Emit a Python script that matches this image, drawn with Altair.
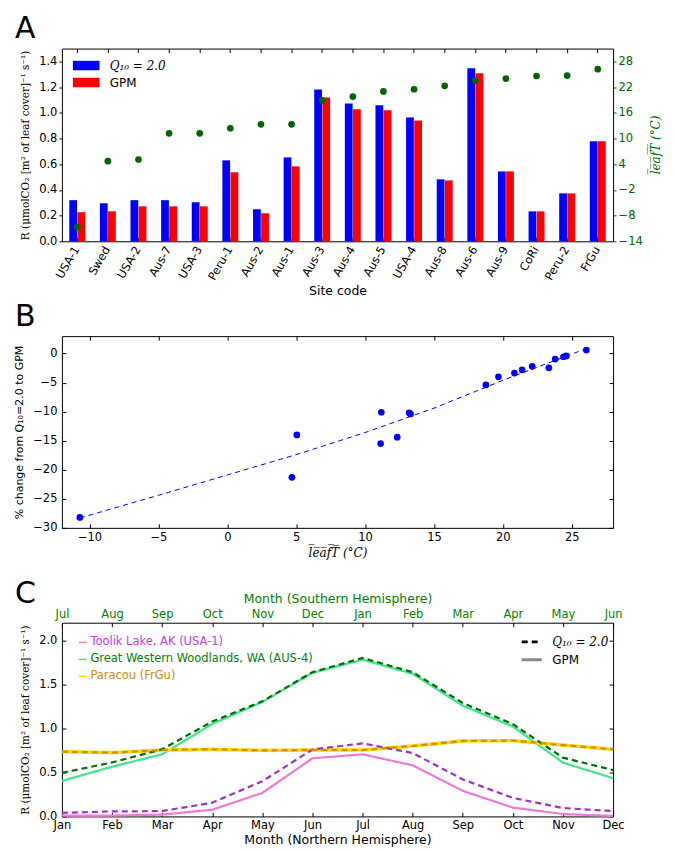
import altair as alt
import pandas as pd

FONT = "DejaVu Sans"
SERIF = "DejaVu Serif"
GREEN_AX = "#006400"
GREEN_TOP = "#008000"

# ---------------- data ----------------
sites = ["USA-1", "Swed", "USA-2", "Aus-7", "USA-3", "Peru-1", "Aus-2", "Aus-1", "Aus-3",
         "Aus-4", "Aus-5", "USA-4", "Aus-8", "Aus-6", "Aus-9", "CoRi", "Peru-2", "FrGu"]
r_q10 = [0.320, 0.296, 0.320, 0.320, 0.304, 0.630, 0.249, 0.653, 1.182,
         1.073, 1.058, 0.964, 0.482, 1.346, 0.544, 0.233, 0.373, 0.778]
r_gpm = [0.226, 0.233, 0.272, 0.272, 0.272, 0.537, 0.218, 0.583, 1.120,
         1.027, 1.019, 0.941, 0.474, 1.307, 0.544, 0.233, 0.373, 0.778]
leaf_t = [-10.7, 4.7, 5.1, 11.2, 11.2, 12.4, 13.3, 13.3, 18.9,
          19.8, 21.0, 21.5, 22.3, 23.5, 24.0, 24.6, 24.7, 26.2]

pct_t = [-10.7, 4.69, 5.05, 11.13, 11.18, 12.33, 13.2, 13.3, 18.77,
         19.68, 20.84, 21.39, 22.13, 23.34, 23.8, 24.4, 24.6, 26.06]
pct_change = [-28.2, -21.3, -14.0, -15.5, -10.1, -14.4, -10.2, -10.4, -5.4,
              -4.0, -3.35, -2.8, -2.2, -2.45, -0.95, -0.55, -0.4, 0.6]
fit_t = [-10.7, -5.0, 0.0, 5.0, 10.0, 15.0, 20.0, 26.1]
fit_change = [-28.3, -24.4, -20.9, -17.4, -13.6, -9.4, -4.6, 0.9]

months = list(range(1, 13))
north_months = ["Jan", "Feb", "Mar", "Apr", "May", "Jun", "Jul", "Aug", "Sep", "Oct", "Nov", "Dec"]
south_months = ["Jul", "Aug", "Sep", "Oct", "Nov", "Dec", "Jan", "Feb", "Mar", "Apr", "May", "Jun"]
c_sites = ["Toolik Lake, AK (USA-1)", "Great Western Woodlands, WA (AUS-4)", "Paracou (FrGu)"]
toolik_q10 = [0.040, 0.057, 0.060, 0.156, 0.400, 0.760, 0.830, 0.720, 0.420, 0.210, 0.095, 0.060]
toolik_gpm = [0.010, 0.010, 0.020, 0.076, 0.267, 0.660, 0.705, 0.580, 0.290, 0.100, 0.027, 0.005]
gww_q10 = [0.495, 0.613, 0.762, 1.078, 1.307, 1.638, 1.800, 1.638, 1.288, 1.048, 0.667, 0.526]
gww_gpm = [0.404, 0.564, 0.705, 1.050, 1.300, 1.630, 1.780, 1.620, 1.257, 1.020, 0.610, 0.434]
frgu_q10 = [0.735, 0.724, 0.754, 0.762, 0.750, 0.754, 0.754, 0.800, 0.857, 0.861, 0.810, 0.762]
frgu_gpm = [0.735, 0.724, 0.754, 0.762, 0.750, 0.754, 0.754, 0.800, 0.857, 0.861, 0.810, 0.762]

solid_colors = ["#F07AD2", "#40E68A", "#FFD700"]
dash_colors = ["#A030C8", "#006F00", "#C8901E"]
label_colors = ["#C040D8", "#0A800A", "#D08A14"]

Q = "Q\u2081\u2080 = 2.0"
R_TITLE = "R (\u03bcmolCO\u2082 [m\u00b2 of leaf cover]\u207b\u00b9 s\u207b\u00b9)"
T_TITLE = "l\u0305e\u0305a\u0305f\u0305T\u0305 (\u00b0C)"

LBL = 11.5
TTL = 12.5


def letter(t, dy=0):
    return alt.TitleParams(t, anchor="start", frame="group", fontSize=30, font=FONT,
                           fontWeight="normal", dx=-47, dy=dy)


font_expr = "datum.label == 'GPM' ? 'DejaVu Sans' : 'DejaVu Serif'"
style_expr = "datum.label == 'GPM' ? 'normal' : 'italic'"

# ---------------- panel A ----------------
dfA = pd.DataFrame({"site": sites + sites,
                    "model": [Q] * len(sites) + ["GPM"] * len(sites),
                    "R": r_q10 + r_gpm})
dfAT = pd.DataFrame({"site": sites, "T": leaf_t})
xsA = alt.Scale(domain=sites, paddingInner=0.48, paddingOuter=0.24)

bars = alt.Chart(dfA).mark_bar(strokeWidth=0).encode(
    x=alt.X("site:N", sort=sites, scale=xsA,
            axis=alt.Axis(title="Site code", labelAngle=-60, labelAlign="right",
                          labelBaseline="middle", tickSize=4, offset=-4, domain=False,
                          labelPadding=6, titlePadding=2)),
    xOffset=alt.XOffset("model:N", sort=[Q, "GPM"],
                        scale=alt.Scale(domain=[Q, "GPM"], paddingInner=0.05, paddingOuter=0)),
    y=alt.Y("R:Q", scale=alt.Scale(domain=[0, 1.5], nice=False),
            axis=alt.Axis(values=[0, 0.2, 0.4, 0.6, 0.8, 1.0, 1.2, 1.4], format=".1f",
                          title=R_TITLE, titleFont=SERIF, titleFontSize=10.5,
                          tickSize=3, labelPadding=2, domain=False,
                          minExtent=24, maxExtent=24, titlePadding=7)),
    color=alt.Color("model:N", scale=alt.Scale(domain=[Q, "GPM"], range=["#0000FF", "#FF0000"]),
                    legend=alt.Legend(title=None, orient="none", legendX=14.8, legendY=7.5,
                                      symbolType="M-1.4,-0.5H1.4V0.5H-1.4Z", symbolSize=361,
                                      symbolStrokeWidth=0, labelOffset=14, rowPadding=1,
                                      labelFontSize=12, labelLimit=0,
                                      labelFont=alt.ExprRef(font_expr),
                                      labelFontStyle=alt.ExprRef(style_expr))),
)

dots = alt.Chart(dfAT).mark_circle(size=45, color=GREEN_AX, opacity=1).encode(
    x=alt.X("site:N", sort=sites, scale=xsA,
            axis=alt.Axis(orient="top", labels=False, title=None, tickSize=4, offset=-4, domain=False)),
    y=alt.Y("T:Q", scale=alt.Scale(domain=[-14, 31], nice=False, zero=False),
            axis=alt.Axis(orient="right", values=[-14, -8, -2, 4, 10, 16, 22, 28],
                          title=T_TITLE, titleFont=SERIF, titleFontStyle="italic",
                          titleFontSize=12, titleColor=GREEN_AX, labelColor=GREEN_AX,
                          tickColor=GREEN_AX, tickSize=3, labelPadding=2, domain=False,
                          titleAngle=270, titleBaseline="middle", titleAlign="center",
                          titleX=42, titleY=96)),
)

panelA = alt.layer(bars, dots).resolve_scale(y="independent").resolve_axis(
    x="independent", y="independent").properties(width=552, height=193, title=letter("A"))

# ---------------- panel B ----------------
dfB = pd.DataFrame({"t": pct_t, "pct": pct_change})
dfFit = pd.DataFrame({"t": fit_t, "pct": fit_change})
xsB = alt.Scale(domain=[-12, 28], nice=False, zero=False)
ysB = alt.Scale(domain=[-30, 3], nice=False, zero=False)
xtB = [-10, -5, 0, 5, 10, 15, 20, 25]
ytB = [-30, -25, -20, -15, -10, -5, 0]

fitB = alt.Chart(dfFit).mark_line(color="#0000FF", strokeWidth=1, strokeDash=[5, 4]).encode(
    x=alt.X("t:Q", scale=xsB, axis=alt.Axis(orient="top", labels=False, title=None, values=xtB,
                                            tickSize=4, offset=-4, domain=False)),
    y=alt.Y("pct:Q", scale=ysB, axis=alt.Axis(orient="right", labels=False, title=None, values=ytB,
                                              tickSize=4, offset=-4, domain=False)),
)
ptsB = alt.Chart(dfB).mark_circle(size=45, color="#0000FF", opacity=1).encode(
    x=alt.X("t:Q", scale=xsB,
            axis=alt.Axis(orient="bottom", values=xtB, title=T_TITLE, titleFont=SERIF,
                          titleFontStyle="italic", titleFontSize=12, tickSize=4, offset=-4,
                          domain=False, labelPadding=4, titlePadding=4, labelFlush=False)),
    y=alt.Y("pct:Q", scale=ysB,
            axis=alt.Axis(orient="left", values=ytB, title="% change from " + Q.replace(" ", "") + " to GPM",
                          titleFontSize=11, tickSize=4, offset=-4, domain=False, labelPadding=5,
                          minExtent=31, maxExtent=31, titlePadding=10)),
)
panelB = alt.layer(fitB, ptsB).resolve_axis(x="independent", y="independent").properties(
    width=552, height=192, title=letter("B"))

# ---------------- panel C ----------------
rows_g, rows_q = [], []
for s, g, q in zip(c_sites, [toolik_gpm, gww_gpm, frgu_gpm], [toolik_q10, gww_q10, frgu_q10]):
    for m, gv, qv in zip(months, g, q):
        rows_g.append({"month": m, "site": s, "model": "GPM", "R": gv})
        rows_q.append({"month": m, "loc": s, "model": Q, "R": qv})
dfCg = pd.DataFrame(rows_g)
dfCq = pd.DataFrame(rows_q)

xsC = alt.Scale(domain=[1, 12], nice=False, zero=False)
ysC = alt.Scale(domain=[0, 2.2], nice=False)
ytC = [0, 0.5, 1.0, 1.5, 2.0]
north_expr = "[" + ",".join("'%s'" % m for m in north_months) + "][datum.value - 1]"
south_expr = "[" + ",".join("'%s'" % m for m in south_months) + "][datum.value - 1]"
dash_scale = alt.Scale(domain=[Q, "GPM"], range=[[6, 4], [1, 0]])
lab_color_expr = ("datum.label == '%s' ? '%s' : datum.label == '%s' ? '%s' : '%s'"
                  % (c_sites[0], label_colors[0], c_sites[1], label_colors[1], label_colors[2]))
sym_color_expr = ("datum.value == '%s' ? '%s' : datum.value == '%s' ? '%s' : '%s'"
                  % (c_sites[0], label_colors[0], c_sites[1], label_colors[1], label_colors[2]))

solid = alt.Chart(dfCg).mark_line().encode(
    x=alt.X("month:Q", scale=xsC,
            axis=alt.Axis(orient="bottom", values=months, labelExpr=north_expr,
                          title="Month (Northern Hemisphere)", tickSize=4, offset=-4, domain=False,
                          labelPadding=3, titlePadding=3, labelFlush=False, labelOverlap=False)),
    y=alt.Y("R:Q", scale=ysC,
            axis=alt.Axis(orient="left", values=ytC, format=".1f", title=R_TITLE, titleFont=SERIF,
                          titleFontSize=10.5, tickSize=4, offset=-4, domain=False, labelPadding=5,
                          minExtent=26, maxExtent=26, titlePadding=9.5)),
    color=alt.Color("site:N", scale=alt.Scale(domain=c_sites, range=solid_colors),
                    legend=alt.Legend(title=None, orient="none", legendX=15, legendY=14,
                                      symbolType="stroke", symbolSize=64, symbolStrokeWidth=1.5,
                                      symbolStrokeColor=alt.ExprRef(sym_color_expr),
                                      labelOffset=2, rowPadding=4,
                                      labelFontSize=11.5, labelLimit=0,
                                      labelColor=alt.ExprRef(lab_color_expr))),
    strokeDash=alt.StrokeDash("model:N", scale=dash_scale,
                              legend=alt.Legend(title=None, orient="none", legendX=459, legendY=7.7,
                                                symbolType="stroke", symbolSize=400,
                                                symbolStrokeWidth=3, labelOffset=9, rowPadding=0,
                                                labelFontSize=12, labelLimit=0,
                                                symbolStrokeColor=alt.ExprRef(
                                                    "datum.value == 'GPM' ? '#888888' : '#000000'"),
                                                labelFont=alt.ExprRef(font_expr),
                                                labelFontStyle=alt.ExprRef(style_expr))),
    strokeWidth=alt.condition("datum.site == 'Paracou (FrGu)'", alt.value(3.5), alt.value(2.2)),
)

dashed = alt.Chart(dfCq).mark_line(strokeWidth=2.2).encode(
    x=alt.X("month:Q", scale=xsC,
            axis=alt.Axis(orient="top", values=months, labelExpr=south_expr,
                          title="Month (Southern Hemisphere)", titleColor=GREEN_TOP,
                          labelColor=GREEN_TOP, tickSize=4, offset=-4, domain=False,
                          labelPadding=3, titlePadding=3, labelFlush=False, labelOverlap=False)),
    y=alt.Y("R:Q", scale=ysC,
            axis=alt.Axis(orient="right", values=ytC, labels=False, title=None,
                          tickSize=4, offset=-4, domain=False)),
    stroke=alt.Stroke("loc:N", scale=alt.Scale(domain=c_sites, range=dash_colors), legend=None),
    strokeDash=alt.StrokeDash("model:N", scale=dash_scale, legend=None),
)

panelC = alt.layer(solid, dashed).resolve_axis(x="independent", y="independent").properties(
    width=552, height=194, title=letter("C", 20))

chart = alt.vconcat(panelA, panelB, panelC, spacing=95, bounds="flush").resolve_scale(
    color="independent", stroke="independent", strokeDash="independent"
).resolve_legend(
    color="independent", stroke="independent", strokeDash="independent"
).properties(
    padding={"left": 5, "top": 5, "right": 5, "bottom": 0}
).configure(font=FONT).configure_view(stroke="black", strokeWidth=1).configure_axis(
    grid=False, labelFont=FONT, labelFontSize=LBL, titleFont=FONT, titleFontSize=TTL,
    titleFontWeight="normal", labelColor="black", tickColor="black", titleColor="black"
).configure_legend(labelFont=FONT, labelColor="black")

chart.save("out.html", embed_options={"renderer": "svg", "actions": False})
